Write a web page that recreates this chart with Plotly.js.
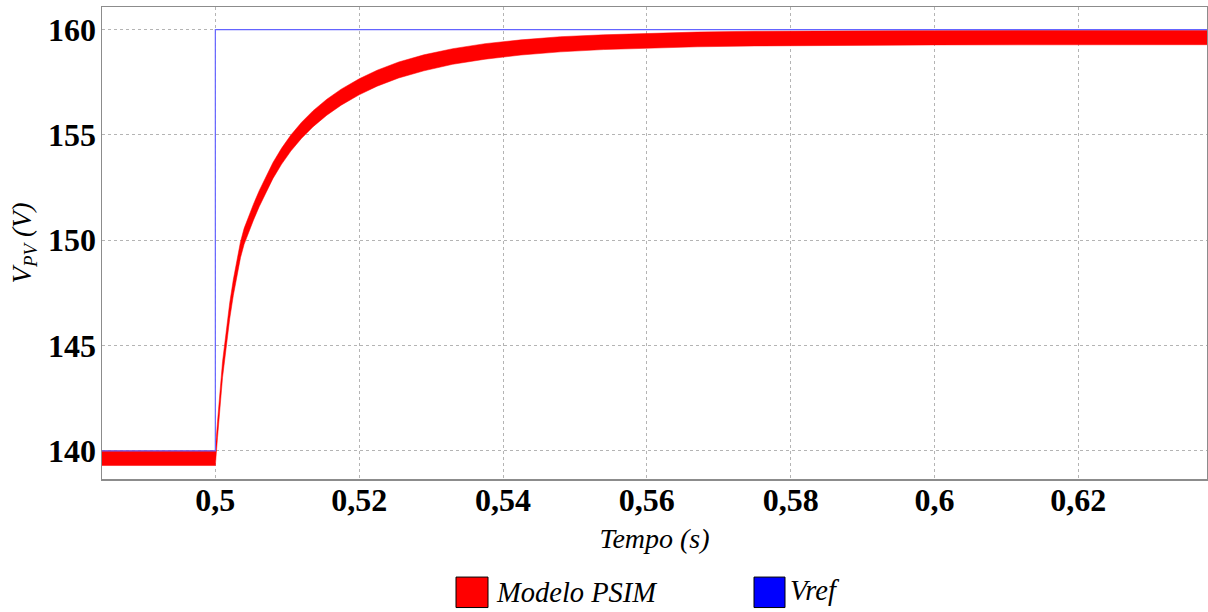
<!DOCTYPE html>
<html>
<head>
<meta charset="utf-8">
<script src="https://cdn.plot.ly/plotly-3.0.1.min.js"></script>
<style>
html,body{margin:0;padding:0;background:#fff;}
#chart{width:1208px;height:612px;}
</style>
</head>
<body>
<div id="chart"></div>
<script>
// Time (s)
const tPSIM = [0.4842, 0.5, 0.5003, 0.5006, 0.5010, 0.5015, 0.5020, 0.5025, 0.5030, 0.5035, 0.5040, 0.5046, 0.5053, 0.5061, 0.5070, 0.5080, 0.5092, 0.5105, 0.5120, 0.5136, 0.5155, 0.5175, 0.5200, 0.5225, 0.5255, 0.5290, 0.5330, 0.5375, 0.5425, 0.5480, 0.5540, 0.5600, 0.5670, 0.5750, 0.5850, 0.6000, 0.6379];
// Upper envelope of the PSIM model ripple (V)
const vPSIMUpper = [140.0, 140.0, 141.38, 142.68, 144.23, 145.63, 147.03, 148.13, 149.13, 149.93, 150.56, 151.11, 151.71, 152.35, 153.01, 153.68, 154.36, 154.99, 155.60, 156.15, 156.69, 157.17, 157.66, 158.07, 158.46, 158.80, 159.09, 159.33, 159.51, 159.66, 159.75, 159.82, 159.88, 159.92, 159.95, 159.96, 159.97];
// Lower envelope of the PSIM model ripple (V)
const vPSIMLower = [139.3, 139.3, 140.62, 141.92, 143.47, 144.87, 146.27, 147.37, 148.37, 149.17, 149.80, 150.35, 150.95, 151.59, 152.25, 152.92, 153.60, 154.23, 154.84, 155.39, 155.93, 156.41, 156.90, 157.31, 157.70, 158.04, 158.35, 158.59, 158.79, 158.94, 159.05, 159.12, 159.18, 159.22, 159.25, 159.27, 159.28];
// Reference voltage step
const tRef = [0.4842, 0.5, 0.5, 0.6379];
const vRef = [140, 140, 160, 160];
// Axis ticks
const xTickVals = [0.5, 0.52, 0.54, 0.56, 0.58, 0.6, 0.62];
const xTickText = ['0,5', '0,52', '0,54', '0,56', '0,58', '0,6', '0,62'];
const yTickVals = [140, 145, 150, 155, 160];
const legendNames = ['Modelo PSIM', 'Vref'];
const legendColors = ['#ff0000', '#0000ff'];

const serif = "'Liberation Serif', 'Times New Roman', serif";

const traces = [
  {x: tPSIM, y: vPSIMLower, type: 'scatter', mode: 'lines', line: {color: '#ff0000', width: 0.5}, showlegend: false, hoverinfo: 'skip'},
  {x: tPSIM, y: vPSIMUpper, type: 'scatter', mode: 'lines', fill: 'tonexty', fillcolor: '#ff0000', line: {color: '#ff0000', width: 0.5}, showlegend: false, name: legendNames[0]},
  {x: tRef, y: vRef, type: 'scatter', mode: 'lines', line: {color: '#6464ff', width: 1.2}, showlegend: false, name: legendNames[1]}
];

const W = 1105, H = 472.6;
function px2x(p){ return (p - 102) / W; }
function py2y(p){ return (479.3 - p) / H; }

const shapes = [
  {type: 'rect', xref: 'paper', yref: 'paper', x0: px2x(456), x1: px2x(488), y0: py2y(608), y1: py2y(577.5), fillcolor: legendColors[0], line: {color: '#000', width: 1}},
  {type: 'rect', xref: 'paper', yref: 'paper', x0: px2x(754), x1: px2x(785), y0: py2y(608), y1: py2y(577.5), fillcolor: legendColors[1], line: {color: '#000', width: 1}}
];
const annotations = [
  {xref: 'paper', yref: 'paper', x: px2x(494), y: py2y(593), xanchor: 'left', yanchor: 'middle', showarrow: false, text: '<i>' + legendNames[0] + '</i>', font: {family: serif, size: 28.5, color: '#000'}},
  {xref: 'paper', yref: 'paper', x: px2x(788), y: py2y(591), xanchor: 'left', yanchor: 'middle', showarrow: false, text: '<i>' + legendNames[1] + '</i>', font: {family: serif, size: 28.5, color: '#000'}}
];

const layout = {
  width: 1208, height: 612,
  margin: {l: 102, r: 1, t: 7, b: 133},
  paper_bgcolor: '#fff', plot_bgcolor: '#fff',
  showlegend: false,
  xaxis: {
    range: [0.48424, 0.63789],
    tickvals: xTickVals, ticktext: xTickText,
    showgrid: true, gridcolor: '#b4b4b4', gridwidth: 1, griddash: 'dot',
    zeroline: false, showline: true, linecolor: '#8c8c8c', linewidth: 1.5, mirror: true,
    ticks: '', ticklabelstandoff: -8,
    tickfont: {family: serif, size: 32, color: '#000', weight: 'bold'},
    title: {text: '<i>Tempo (s)</i>', font: {family: serif, size: 28, color: '#000'}, standoff: 11},
    automargin: false
  },
  yaxis: {
    range: [138.66, 161.07],
    tickvals: yTickVals,
    showgrid: true, gridcolor: '#b4b4b4', gridwidth: 1, griddash: 'dot',
    zeroline: false, showline: true, linecolor: '#8c8c8c', linewidth: 1.5, mirror: true,
    ticks: '', ticklabelstandoff: -2,
    tickfont: {family: serif, size: 32, color: '#000', weight: 'bold'},
    title: {text: '<i>V<sub>PV</sub> (V)</i>', font: {family: serif, size: 27, color: '#000'}, standoff: 8},
    automargin: false
  },
  shapes: shapes,
  annotations: annotations
};

Plotly.newPlot('chart', traces, layout, {displayModeBar: false, staticPlot: true});
</script>
</body>
</html>
